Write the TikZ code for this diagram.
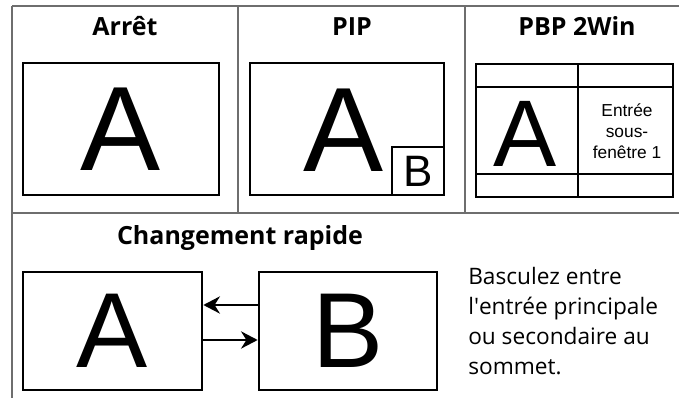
\documentclass[tikz,border=0pt]{standalone}
\usepackage{fontspec}
\setmainfont{Open Sans}
\newfontfamily\arialfont{Liberation Sans}
\usetikzlibrary{arrows.meta}
\definecolor{cadre}{HTML}{6E6E6E}
\begin{document}
\begin{tikzpicture}[
		x=0.75pt, y=-0.75pt, line join=miter,
		trait/.style={cadre, line width=1.2pt},
		ecran/.style={draw, line width=2.1pt, inner sep=0pt, outer sep=0pt},
		titre/.style={anchor=base, font=\fontsize{18.75}{22}\selectfont\bfseries},
		lettre/.style={font=\arialfont\fontsize{90}{90}\selectfont},
		fleche/.style={-{Stealth[length=12.5pt, width=13pt]}, line width=1.4pt, shorten >=1pt},
		]
		\useasboundingbox (0,0) rectangle (679,398);
		
		% 1. CADRE DU TABLEAU
		\draw[trait] (12,6) -- (679,6);
		\draw[trait] (12,6) -- (12,398);
		\draw[trait] (12,213) -- (679,213);
		\draw[trait] (238,6) -- (238,213);
		\draw[trait] (465,6) -- (465,213);
		
		% 2. TITRES
		\node[titre] (tArret) at (125,36) {Arrêt};
		\node[titre] (tPip) at (352,36) {PIP};
		\node[titre] (tPbp) at (577,36) {PBP 2Win};
		\node[titre] (tChange) at (240,245) {Changement rapide};
		
		% 3. ARRÊT
		\node[ecran, lettre, minimum width=147pt, minimum height=99pt] (arret) at (121,129) {A};
		
		% 4. PIP
		\node[ecran, minimum width=145.5pt, minimum height=99pt] (pip) at (347,129) {};
		\node[lettre] (pipA) at (344,130) {A};
		\node[ecran, minimum width=39pt, minimum height=36pt, font=\arialfont\fontsize{33}{33}\selectfont] (pipB) at (418,171) {B};
		
		% 5. PBP 2WIN
		\node[ecran, minimum width=147.75pt, minimum height=99.75pt] (pbp) at (574.5,130.5) {};
		\draw[line width=2.1pt] (578,64) -- (578,197);
		\draw[line width=2.1pt] (476,87) -- (673,87);
		\draw[line width=2.1pt] (476,174) -- (673,174);
		\node[font=\arialfont\fontsize{71}{71}\selectfont] (pbpA) at (525,134) {A};
		\node[align=center, font=\arialfont\fontsize{13}{15.8}\selectfont] (pbpTexte) at (627,131) {Entrée\\sous-\\fenêtre 1};
		
		% 6. CHANGEMENT RAPIDE
		\node[ecran, minimum width=134.25pt, minimum height=88.5pt, font=\arialfont\fontsize{80}{80}\selectfont] (bascA) at (112.5,331) {A};
		\node[ecran, minimum width=133.5pt, minimum height=88.5pt, font=\arialfont\fontsize{80}{80}\selectfont] (bascB) at (348,331) {B};
		\draw[fleche] ([yshift=19.5pt]bascB.west) -- ([yshift=19.5pt]bascA.east);
		\draw[fleche] ([yshift=-6.75pt]bascA.east) -- ([yshift=-6.75pt]bascB.west);
		
		\node[anchor=north west, align=left, inner sep=0pt, font=\fontsize{17}{22.5}\selectfont] (texte) at (468,267) {Basculez entre\\l\textquotesingle entrée principale\\ou secondaire au\\sommet.};
		
	\end{tikzpicture}
\end{document}
